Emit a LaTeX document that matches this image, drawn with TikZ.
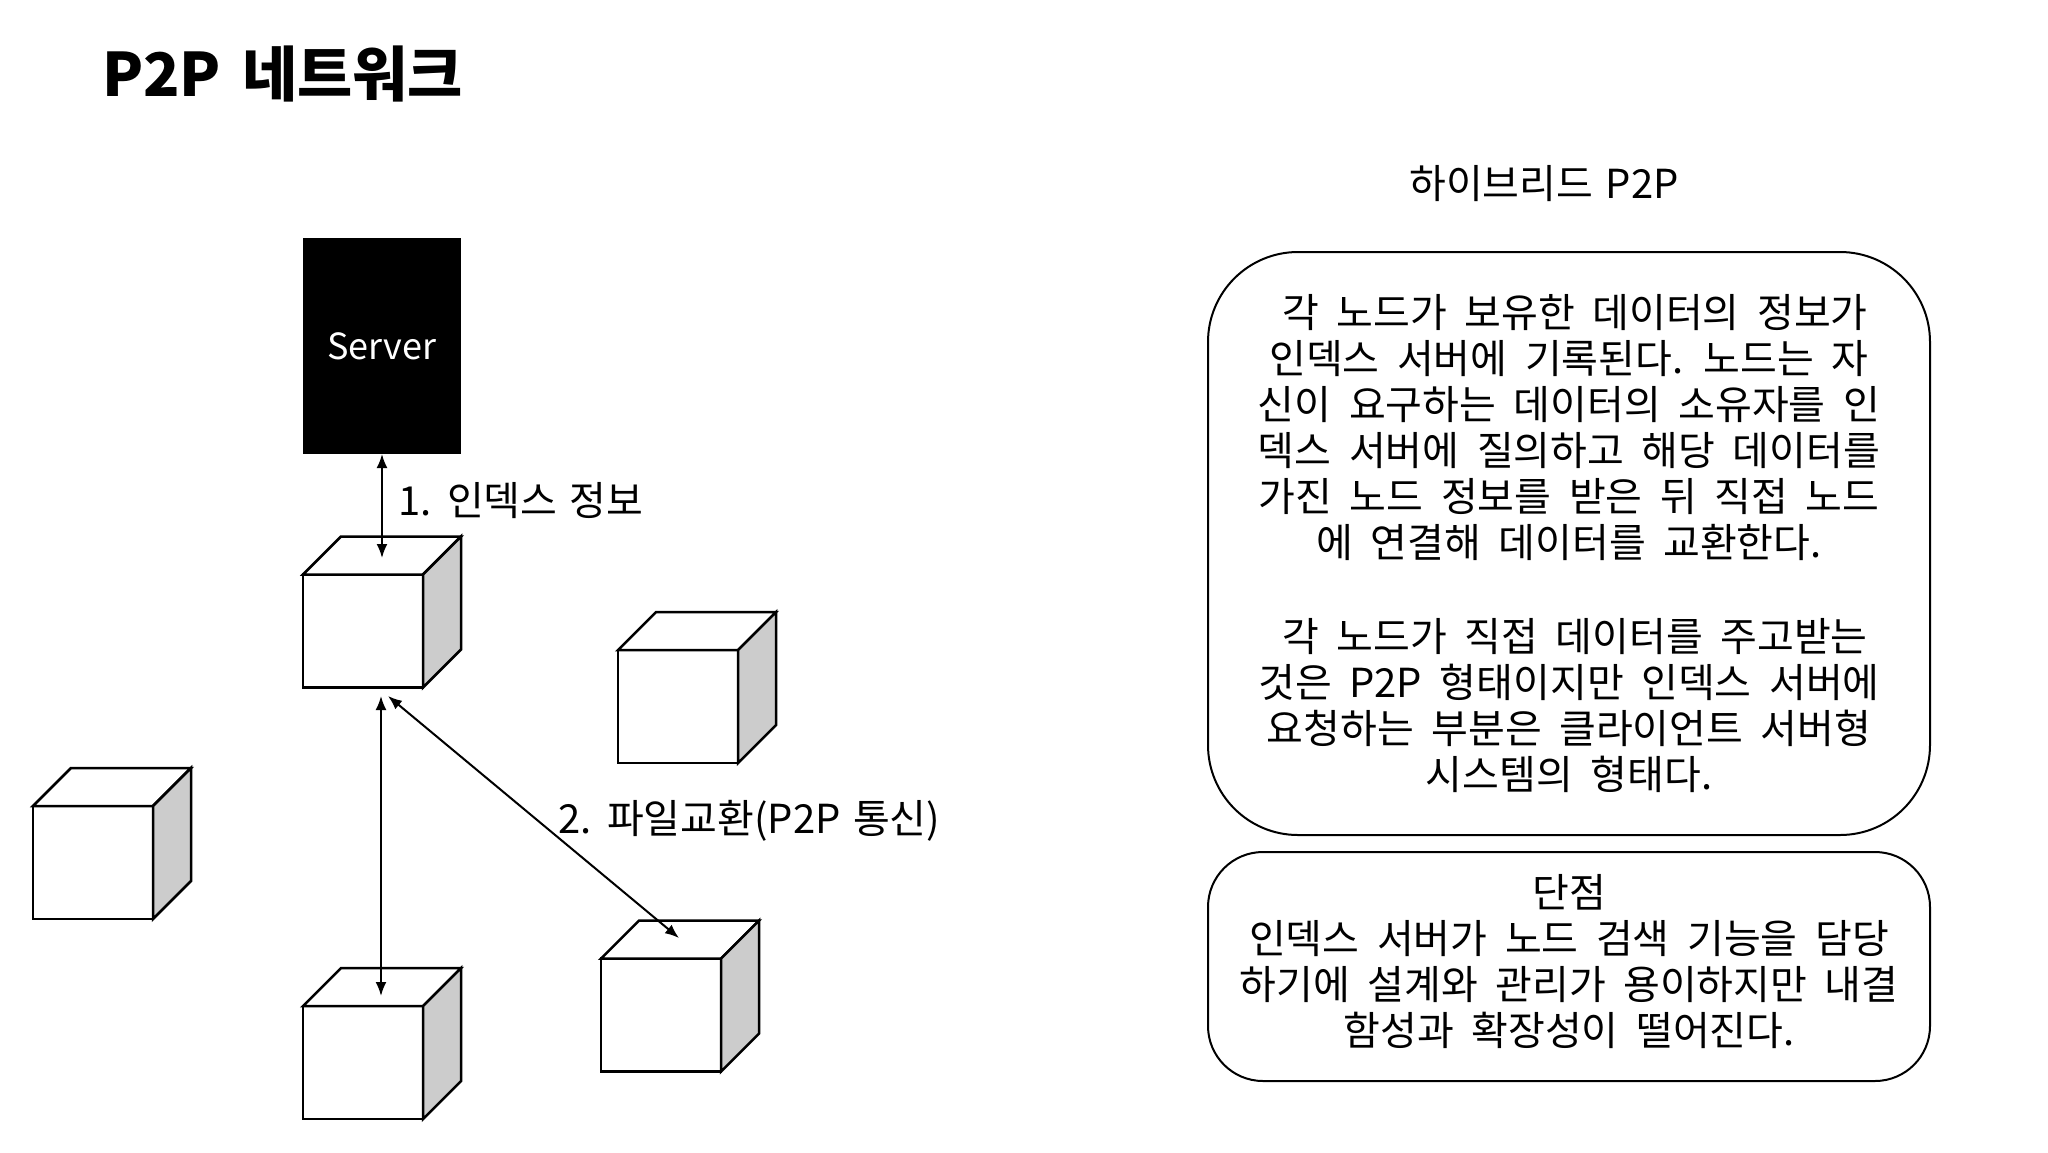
\documentclass[tikz,border=0pt]{standalone}
\usepackage{fontspec}
\setmainfont{Noto Sans CJK KR}
\newfontfamily\boxfont{Noto Sans CJK KR}[WordSpace=2]
\newfontfamily\labfont{Noto Sans CJK KR}[WordSpace=1.4]
\usetikzlibrary{arrows.meta}
\definecolor{sidegray}{RGB}{204,204,204}
\newcommand\cubefaces[1]{%
  \draw[cubeline,fill=white] (#1.north west) -- ++(38,-38) -- ([shift={(38,-38)}]#1.north east) -- (#1.north east) -- cycle;
  \draw[cubeline,fill=sidegray] (#1.north east) -- ([shift={(38,-38)}]#1.north east) -- ([shift={(38,-38)}]#1.south east) -- (#1.south east) -- cycle;}
\begin{document}
\begin{tikzpicture}[x=1pt,y=-1pt,
  cubeline/.style={draw=black,line width=2.5pt,line join=miter},
  front/.style={cubeline,fill=white,minimum width=120pt,minimum height=113pt,inner sep=0pt,outer sep=0pt},
  conn/.style={line width=2pt,{Latex[length=14pt,width=11pt]}-{Latex[length=14pt,width=11pt]}},
  lab/.style={font=\labfont\fontsize{40}{46}\selectfont},
  roundbox/.style={draw,line width=2pt,align=center,inner sep=0pt,outer sep=0pt,font=\boxfont\fontsize{40}{46}\selectfont}]
\useasboundingbox[fill=white] (0,0) rectangle (2048,1152);

\node[anchor=base west,font=\fontsize{60}{70}\selectfont\bfseries,inner sep=0pt] (title) at (102,96) {P2P\hspace{21pt}네트워크};

\node[fill=black,minimum width=158pt,minimum height=216pt,inner sep=0pt,outer sep=0pt,text=white,font=\fontsize{36}{43}\selectfont] (server) at (382,346) {Server};

\node[front] (c1) at (363,631) {}; \cubefaces{c1}
\node[front] (c2) at (678,706.5) {}; \cubefaces{c2}
\node[front] (c3) at (93,862.5) {}; \cubefaces{c3}
\node[front] (c4) at (363,1062.5) {}; \cubefaces{c4}
\node[front] (c5) at (661,1015) {}; \cubefaces{c5}

\coordinate (c1top) at (382,558);
\coordinate (c1bot) at (381,696);
\coordinate (c1botr) at (388,696);
\coordinate (c4top) at (381,996);
\coordinate (c5top) at (679,938);

\draw[conn] (server.south) -- (c1top);
\draw[conn] (c1bot) -- (c4top);
\draw[conn] (c1botr) -- (c5top);

\node[lab,anchor=west,inner sep=0pt] (lab1) at (398,501) {1. 인덱스 정보};
\node[lab,anchor=west,inner sep=0pt] (lab2) at (558,821) {2. 파일교환(P2P 통신)};

\node[lab] (htitle) at (1544,184) {하이브리드 P2P};

\node[roundbox,rounded corners=90pt,minimum width=722pt,minimum height=583pt] (box1) at (1569,543.5)
{\hspace*{.3em}각 노드가 보유한 데이터의 정보가\\
인덱스 서버에 기록된다. 노드는 자\\
신이 요구하는 데이터의 소유자를 인\\
덱스 서버에 질의하고 해당 데이터를\\
가진 노드 정보를 받은 뒤 직접 노드\\
에 연결해 데이터를 교환한다.\\
\strut\\
\hspace*{.3em}각 노드가 직접 데이터를 주고받는\\
것은 P2P 형태이지만 인덱스 서버에\\
요청하는 부분은 클라이언트 서버형\\
시스템의 형태다.};

\node[roundbox,rounded corners=55pt,minimum width=722pt,minimum height=229pt] (box2) at (1569,966.5)
{단점\\
인덱스 서버가 노드 검색 기능을 담당\\
하기에 설계와 관리가 용이하지만 내결\\
함성과 확장성이 떨어진다.\rule[-13pt]{0pt}{1pt}};
\end{tikzpicture}
\end{document}
